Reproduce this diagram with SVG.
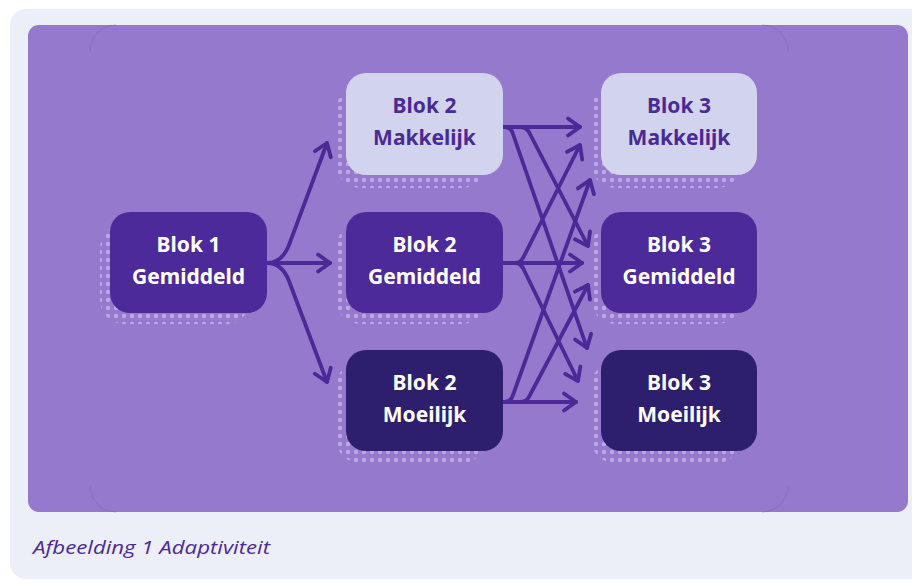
<svg xmlns="http://www.w3.org/2000/svg" width="912" height="583" viewBox="0 0 912 583">
<style>
.lbl{font-family:"Noto Sans","Open Sans","Liberation Sans",sans-serif;font-weight:700;font-size:21px;text-anchor:middle}
.w{fill:#ffffff}
.d{fill:#4b2a97}
.con{fill:none;stroke:#4b2a97;stroke-width:3.8;stroke-linecap:round;stroke-linejoin:round}
.halo{fill:url(#dots)}
.cap{font-family:"Open Sans","Noto Sans","Liberation Sans",sans-serif;font-style:italic;font-size:19px;fill:#4b2a97}
.arc{fill:none;stroke:#7e62b8;stroke-opacity:0.45;stroke-width:1}
</style>
<defs>
<pattern id="dots" width="8" height="8" patternUnits="userSpaceOnUse">
<circle cx="4" cy="4" r="2.2" fill="#bba9e3"/>
</pattern>
<marker id="ah" viewBox="-15 -11 17 22" markerWidth="17" markerHeight="22" refX="0" refY="0" orient="auto" markerUnits="userSpaceOnUse">
<path d="M-12,-8.5 L0,0 L-12,8.5" fill="none" stroke="#4b2a97" stroke-width="3.8" stroke-linecap="round" stroke-linejoin="round"/>
</marker>
</defs>
<rect x="10" y="9" width="920" height="570" rx="16" fill="#eceef8"/>
<rect x="28" y="25" width="880" height="487" rx="11" fill="#9579cc"/>
<path class="arc" d="M90,51 A26,26 0 0 1 116,25"/>
<path class="arc" d="M762,25 A26,26 0 0 1 788,51"/>
<path class="arc" d="M90,486 A26,26 0 0 0 116,512"/>
<path class="arc" d="M762,512 A26,26 0 0 0 788,486"/>

<g id="connectors">
<path class="con" marker-end="url(#ah)" d="M267,263 L330,263"/>
<path class="con" marker-end="url(#ah)" d="M267,263 Q282,263 289,245 L327,143"/>
<path class="con" marker-end="url(#ah)" d="M267,263 Q282,263 289,281 L327,382"/>

<path class="con" marker-end="url(#ah)" d="M502,127 L580,127"/>
<path class="con" marker-end="url(#ah)" d="M502,127 L520,127 Q527,127 530,134 L588,246"/>
<path class="con" marker-end="url(#ah)" d="M502,127 L505,127 Q511,127 513,134 L587,348"/>

<path class="con" marker-end="url(#ah)" d="M502,263 L582,263"/>
<path class="con" marker-end="url(#ah)" d="M502,263 L515,263 Q521,263 524,256 L580,145"/>
<path class="con" marker-end="url(#ah)" d="M502,263 L515,263 Q521,263 524,270 L578,381"/>

<path class="con" marker-end="url(#ah)" d="M502,402 L576,402"/>
<path class="con" marker-end="url(#ah)" d="M502,402 L520,402 Q527,402 530,395 L588,285"/>
<path class="con" marker-end="url(#ah)" d="M502,402 L505,402 Q511,402 513,395 L590,180"/>
</g>

<g id="blok1-gemiddeld">
<rect class="halo" x="100" y="224" width="150" height="100" rx="24"/>
<rect x="110" y="212" width="157" height="101" rx="20" fill="#4d2a99"/>
<text class="lbl w" x="188.5" y="252">Blok 1</text>
<text class="lbl w" x="188.5" y="284">Gemiddeld</text>
</g>

<g id="blok2-makkelijk">
<rect class="halo" x="336" y="86" width="150" height="102" rx="24"/>
<rect x="346" y="73" width="157" height="102" rx="20" fill="#d1d4ec"/>
<text class="lbl d" x="424.5" y="113">Blok 2</text>
<text class="lbl d" x="424.5" y="145">Makkelijk</text>
</g>

<g id="blok2-gemiddeld">
<rect class="halo" x="336" y="224" width="150" height="100" rx="24"/>
<rect x="346" y="212" width="157" height="101" rx="20" fill="#4d2a99"/>
<text class="lbl w" x="424.5" y="252">Blok 2</text>
<text class="lbl w" x="424.5" y="284">Gemiddeld</text>
</g>

<g id="blok2-moeilijk">
<rect class="halo" x="336" y="362" width="150" height="101" rx="24"/>
<rect x="346" y="350" width="157" height="101" rx="20" fill="#2d1e6e"/>
<text class="lbl w" x="424.5" y="390">Blok 2</text>
<text class="lbl w" x="424.5" y="422">Moeilijk</text>
</g>

<g id="blok3-makkelijk">
<rect class="halo" x="591" y="86" width="150" height="102" rx="24"/>
<rect x="601" y="73" width="156" height="102" rx="20" fill="#d1d4ec"/>
<text class="lbl d" x="679" y="113">Blok 3</text>
<text class="lbl d" x="679" y="145">Makkelijk</text>
</g>

<g id="blok3-gemiddeld">
<rect class="halo" x="591" y="224" width="150" height="100" rx="24"/>
<rect x="601" y="212" width="156" height="101" rx="20" fill="#4d2a99"/>
<text class="lbl w" x="679" y="252">Blok 3</text>
<text class="lbl w" x="679" y="284">Gemiddeld</text>
</g>

<g id="blok3-moeilijk">
<rect class="halo" x="591" y="362" width="150" height="101" rx="24"/>
<rect x="601" y="350" width="156" height="101" rx="20" fill="#2d1e6e"/>
<text class="lbl w" x="679" y="390">Blok 3</text>
<text class="lbl w" x="679" y="422">Moeilijk</text>
</g>

<text class="cap" x="33" y="554" textLength="237" lengthAdjust="spacingAndGlyphs">Afbeelding 1 Adaptiviteit</text>
</svg>
